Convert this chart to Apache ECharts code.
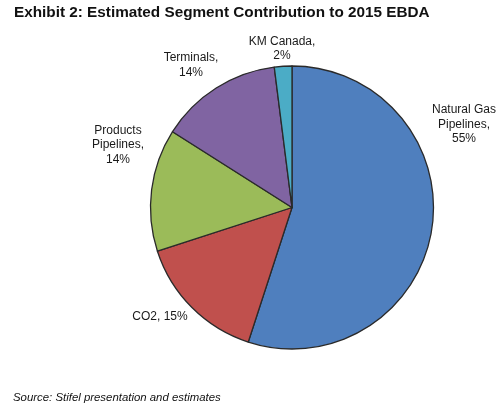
<!DOCTYPE html>
<html>
<head>
<meta charset="utf-8">
<script src="https://cdn.jsdelivr.net/npm/echarts@6/dist/echarts.min.js"></script>
<style>
html,body{margin:0;padding:0;background:#fff;}
#chart{width:500px;height:409px;}
</style>
</head>
<body>
<div id="chart"></div>
<script>
var categories = ['Natural Gas Pipelines', 'CO2', 'Products Pipelines', 'Terminals', 'KM Canada'];
var values = [55, 15, 14, 14, 2];
var labelTexts = ['Natural Gas\nPipelines,', 'CO2,', 'Products\nPipelines,', 'Terminals,', 'KM Canada,'];
var colors = ['#4F7FBE', '#C0504D', '#9BBB59', '#8064A2', '#4BACC6'];
var titleText = 'Exhibit 2: Estimated Segment Contribution to 2015 EBDA';
var sourceText = 'Source: Stifel presentation and estimates';

var chart = echarts.init(document.getElementById('chart'), null, {renderer: 'canvas'});

var labelPos = [[464, 124.5], [160, 317], [118, 145], [191, 65], [282, 48.5]];
var graphics = categories.map(function (c, i) {
  var t = labelTexts[i] + (i === 1 ? ' ' : '\n') + values[i] + '%';
  return {
    type: 'text', x: labelPos[i][0], y: labelPos[i][1],
    style: {text: t, fill: '#1a1a1a', font: '12px "Liberation Sans", Arial, sans-serif',
      align: 'center', verticalAlign: 'middle', lineHeight: 14.5}
  };
});
graphics.push({
  type: 'text', x: 14, y: 13,
  style: {text: titleText, fill: '#111', font: 'bold 15.3px "Liberation Sans", Arial, sans-serif',
    align: 'left', verticalAlign: 'middle'}
});
graphics.push({
  type: 'text', x: 13, y: 398,
  style: {text: sourceText, fill: '#111', font: 'italic 11.4px "Liberation Sans", Arial, sans-serif',
    align: 'left', verticalAlign: 'middle'}
});

chart.setOption({
  animation: false,
  graphic: graphics,
  series: [{
    type: 'pie',
    center: [292, 207.5],
    radius: [0, 141.5],
    startAngle: 90,
    clockwise: true,
    label: {show: false},
    labelLine: {show: false},
    itemStyle: {borderColor: '#2a2a2a', borderWidth: 1.3},
    emphasis: {disabled: true},
    data: categories.map(function (c, i) {
      return {name: c, value: values[i], itemStyle: {color: colors[i]}};
    })
  }]
});
</script>
</body>
</html>
